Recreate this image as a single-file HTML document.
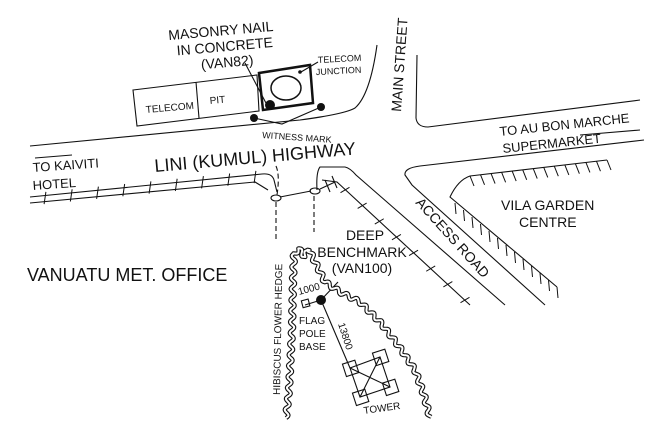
<!DOCTYPE html>
<html><head><meta charset="utf-8"><style>
html,body{margin:0;padding:0;background:#fff;}
svg{display:block;}
text{font-family:"Liberation Sans",Arial,sans-serif;fill:#111;}
</style></head><body>
<svg id="s" width="664" height="425" viewBox="0 0 664 425" xmlns="http://www.w3.org/2000/svg">
<rect width="664" height="425" fill="#fff"/>
<g fill="none" stroke="#111" stroke-width="1.1">
<path d="M30,146 L300,120 Q345,114 355,108 Q370,95 377,45"/>
<path d="M417,55 L416,118 Q417,127 428,127 L640,100"/>
<path d="M644,140 L420,166 Q404,168 405,175 L412,185 L545,305"/>
<path d="M30,197 L262,174 Q272,173 274,180 L277,192"/>
<path d="M30,203 L255,182 L268,190"/>
<path d="M317,190 Q316,172 320,167 L345,167 Q350,168 356,175 L505,305"/>
<path d="M322,180 L337,182 L470,305"/>
<path d="M276,202 L276,240" stroke-dasharray="5,3"/>
<path d="M314,196 L314,232" stroke-dasharray="5,3"/>
<path d="M276,166 Q280,175 277,195" stroke-dasharray="5,3"/>
<ellipse cx="276" cy="198" rx="5" ry="3"/>
<ellipse cx="315" cy="191" rx="5" ry="3"/>
<path d="M280,197 L311,191"/>
<path d="M320,189 L335,182 M325,180 L330,192 M332,176 L337,188"/>
<path d="M607,160 L470,176 Q458,180 450,197 L557,287"/>
<path d="M133,90 L257,75 L259,111 L137,126 Z"/>
<path d="M196,82 L199,118"/>
<path d="M254,118 L282,124 L321,107"/>
<path d="M245,63 L267,105"/>
<path d="M301,72 L318,62"/>
<path d="M35,158 L72,155"/>
<path d="M580,135 L640,130"/>
<path d="M305,305 L321,300"/>
<path d="M321,300 L338,282"/>
<path d="M321,300 L350,368"/>
<path d="M350,368 L380,357 L390,387 L360,397 Z"/>
<path d="M350,368 L390,387 M380,357 L360,397"/>
<rect x="302" y="300" width="7" height="7" transform="rotate(-15 305 303)"/>
</g>
<g fill="none" stroke="#111" stroke-width="1.1">
<rect x="344" y="362" width="13" height="13" transform="rotate(-18 350 368)"/>
<rect x="374" y="351" width="13" height="13" transform="rotate(-18 380 357)"/>
<rect x="384" y="381" width="13" height="13" transform="rotate(-18 390 387)"/>
<rect x="354" y="391" width="13" height="13" transform="rotate(-18 360 397)"/>
</g>
<g id="ticks" stroke="#111" stroke-width="1"></g>
<path d="M259,73 L310,65 L313,103 L263,110 Z" fill="none" stroke="#111" stroke-width="2.5"/>
<ellipse cx="286" cy="88" rx="15" ry="12" fill="none" stroke="#111" stroke-width="1.5"/>
<circle cx="300" cy="72" r="1.8" fill="#111"/>
<circle cx="270" cy="105" r="5" fill="#111"/>
<circle cx="254" cy="118" r="4" fill="#111"/>
<circle cx="321" cy="107" r="4" fill="#111"/>
<g id="hedges"></g>
<circle cx="321" cy="300" r="5" fill="#111"/>
<g transform="rotate(-5 215 30)"><text x="168" y="36" font-size="14">MASONRY NAIL</text>
<text x="175" y="52" font-size="14">IN CONCRETE</text>
<text x="198" y="68" font-size="14">(VAN82)</text></g>
<text x="318" y="63" font-size="9" transform="rotate(-3 318 63)">TELECOM</text>
<text x="316" y="75" font-size="9" transform="rotate(-3 318 75)">JUNCTION</text>
<text x="146" y="113" font-size="10" transform="rotate(-5 146 113)">TELECOM</text>
<text x="210" y="104" font-size="10" transform="rotate(-5 210 104)">PIT</text>
<text x="262" y="138" font-size="9" transform="rotate(4 262 138)">WITNESS MARK</text>
<text x="155" y="172" font-size="18" transform="rotate(-5 155 172)">LINI (KUMUL) HIGHWAY</text>
<text x="33" y="172" font-size="13" transform="rotate(-4 33 172)">TO KAIVITI</text>
<text x="33" y="190" font-size="13" transform="rotate(-4 33 190)">HOTEL</text>
<text x="401" y="112" font-size="14" transform="rotate(-86 401 112)">MAIN STREET</text>
<text x="500" y="136" font-size="13" transform="rotate(-6 500 136)">TO AU BON MARCHE</text>
<text x="503" y="153" font-size="13" transform="rotate(-6 503 153)">SUPERMARKET</text>
<text x="501" y="210" font-size="14">VILA GARDEN</text>
<text x="519" y="227" font-size="14">CENTRE</text>
<text x="415" y="203" font-size="14" transform="rotate(48 415 203)">ACCESS ROAD</text>
<text x="365" y="240" font-size="14" text-anchor="middle">DEEP</text>
<text x="362" y="257" font-size="14" text-anchor="middle">BENCHMARK</text>
<text x="362" y="273" font-size="14" text-anchor="middle">(VAN100)</text>
<text x="27" y="281" font-size="18">VANUATU MET. OFFICE</text>
<text x="280" y="395" font-size="10" transform="rotate(-89 280 395)">HIBISCUS FLOWER HEDGE</text>
<text x="299" y="295" font-size="10" transform="rotate(-15 299 295)">1000</text>
<text x="299" y="324" font-size="10">FLAG</text>
<text x="299" y="337" font-size="10">POLE</text>
<text x="299" y="350" font-size="10">BASE</text>
<text x="338" y="324" font-size="10" transform="rotate(72 338 324)">13800</text>
<text x="364" y="414" font-size="10" transform="rotate(-8 364 414)">TOWER</text>
</svg>
<script>
(function(){
var NS="http://www.w3.org/2000/svg";
var tg=document.getElementById('ticks');
function ticks(x1,y1,x2,y2,n,len){
 var dx=x2-x1,dy=y2-y1,L=Math.hypot(dx,dy),nx=-dy/L,ny=dx/L;
 for(var i=0;i<=n;i++){var t=i/n,x=x1+dx*t,y=y1+dy*t;
  var l=document.createElementNS(NS,'line');
  l.setAttribute('x1',x-nx*len+dx/L*1.5);l.setAttribute('y1',y-ny*len+dy/L*1.5);
  l.setAttribute('x2',x+nx*len-dx/L*1.5);l.setAttribute('y2',y+ny*len-dy/L*1.5);tg.appendChild(l);}
}
ticks(45,198,255,177,8,6);
ticks(345,190,465,300,7,5);
function hatch(x1,y1,x2,y2,n,ox,oy){
 for(var i=0;i<=n;i++){var t=i/n,x=x1+(x2-x1)*t,y=y1+(y2-y1)*t;
  var l=document.createElementNS(NS,'line');
  l.setAttribute('x1',x);l.setAttribute('y1',y);l.setAttribute('x2',x+ox);l.setAttribute('y2',y+oy);tg.appendChild(l);}
}
hatch(470,176,607,160,13,4,10);
hatch(455,203,557,287,12,1,11);
var hg=document.getElementById('hedges');
function wavy(pts,amp,wl){
 var d='',first=true,ph=0;
 for(var k=0;k<pts.length-1;k++){
  var a=pts[k],b=pts[k+1],dx=b[0]-a[0],dy=b[1]-a[1],L=Math.hypot(dx,dy),nx=-dy/L,ny=dx/L;
  for(var s=0;s<=L;s+=1){var w=Math.sin((ph+s)/wl*2*Math.PI)*amp;
   var x=a[0]+dx*s/L+nx*w,y=a[1]+dy*s/L+ny*w;
   d+=(first?'M':'L')+x.toFixed(1)+','+y.toFixed(1);first=false;}
  ph+=L;
 }
 [['#111',4.2],['#fff',2]].forEach(function(c){
  var p=document.createElementNS(NS,'path');p.setAttribute('d',d);p.setAttribute('fill','none');
  p.setAttribute('stroke',c[0]);p.setAttribute('stroke-width',c[1]);p.setAttribute('stroke-linejoin','round');hg.appendChild(p);});
}
wavy([[286,418],[289,390],[292,330],[293,280],[294,254],[299,249],[304,256],[309,249],[315,262],[325,282],[340,292],[360,302],[380,322],[398,345],[415,370],[424,395],[430,418]],2.2,11);
})();
</script>
</body></html>
